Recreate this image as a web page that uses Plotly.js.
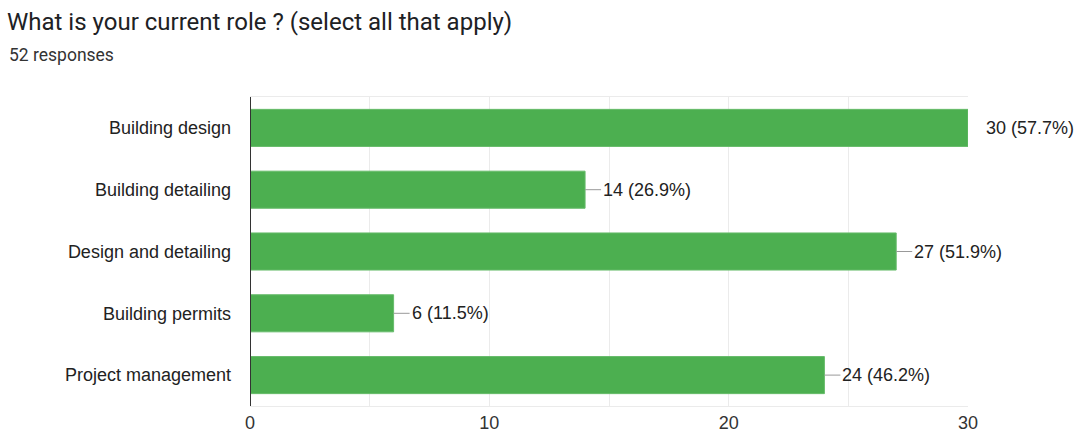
<!DOCTYPE html>
<html>
<head>
<meta charset="utf-8">
<script src="https://cdn.plot.ly/plotly-3.0.1.min.js"></script>
<style>html,body{margin:0;padding:0;background:#fff;}#chart{width:1080px;height:436px;}</style>
</head>
<body>
<div id="chart"></div>
<script>
const titleText = "What is your current role ? (select all that apply)";
const subtitleText = "52 responses";
const categories = ["Building design", "Building detailing", "Design and detailing", "Building permits", "Project management"];
const counts = [30, 14, 27, 6, 24];
const percents = ["57.7%", "26.9%", "51.9%", "11.5%", "46.2%"];
const xTicks = [0, 10, 20, 30];

const W = 1080, H = 436;
const mL = 250, mR = 112, mT = 97, mB = 30;
const xMax = 30;
const plotW = W - mL - mR;

const labels = counts.map((c, i) => c + " (" + percents[i] + ")");

const trace = {
  type: "bar",
  orientation: "h",
  y: categories,
  x: counts,
  marker: {color: "#4caf50", line: {color: "#66bb6a", width: 1}},
  width: 0.6,
  hoverinfo: "none"
};

const annotations = categories.map((cat, i) => ({
  x: counts[i], y: cat, xref: "x", yref: "y",
  text: labels[i], showarrow: false,
  xanchor: "left", yanchor: "middle",
  xshift: 16,
  font: {family: "Liberation Sans, Arial, sans-serif", size: 18, color: "#222"}
}));

annotations.push({
  xref: "paper", yref: "paper",
  x: (7 - mL) / plotW, y: 1 + (mT - 55) / (H - mT - mB),
  xanchor: "left", yanchor: "middle",
  text: subtitleText, showarrow: false,
  font: {family: "Roboto, sans-serif", size: 17.5, color: "#333"}
});

const shapes = categories.filter((c, i) => counts[i] < xMax).map(cat => {
  const i = categories.indexOf(cat);
  return {
    type: "line", xref: "x", yref: "y",
    xsizemode: "pixel", xanchor: counts[i],
    x0: 0, x1: 16, y0: cat, y1: cat,
    line: {color: "#999", width: 1}
  };
});

const layout = {
  width: W, height: H,
  margin: {l: mL, r: mR, t: mT, b: mB, pad: 0},
  paper_bgcolor: "#fff", plot_bgcolor: "#fff",
  showlegend: false,
  title: {
    text: titleText,
    xref: "container", yref: "container",
    x: 7 / W, xanchor: "left",
    y: 1 - 22 / H, yanchor: "middle",
    font: {family: "Roboto, sans-serif", size: 24, color: "#202124"}
  },
  xaxis: {
    range: [0, xMax],
    tickvals: xTicks,
    ticktext: xTicks.map(String),
    showgrid: true, gridcolor: "#ebebeb", gridwidth: 1,
    minor: {dtick: 5, showgrid: true, gridcolor: "#ebebeb", gridwidth: 1},
    zeroline: false,
    showline: true, linecolor: "#ebebeb", mirror: true,
    ticks: "",
    tickfont: {family: "Liberation Sans, Arial, sans-serif", size: 18, color: "#333"},
    fixedrange: true
  },
  yaxis: {
    type: "category",
    autorange: false,
    range: [categories.length - 0.5, -0.5],
    showgrid: false, zeroline: false,
    showline: false,
    ticks: "", ticklabelstandoff: 18,
    tickfont: {family: "Liberation Sans, Arial, sans-serif", size: 18, color: "#222"},
    fixedrange: true
  },
  bargap: 0.4,
  annotations: annotations,
  shapes: shapes.concat([{
    type: "line", xref: "x", yref: "paper", x0: 0, x1: 0, y0: 0, y1: 1,
    line: {color: "#333", width: 2}
  }])
};

Plotly.newPlot("chart", [trace], layout, {displayModeBar: false, staticPlot: true});
</script>
</body>
</html>
